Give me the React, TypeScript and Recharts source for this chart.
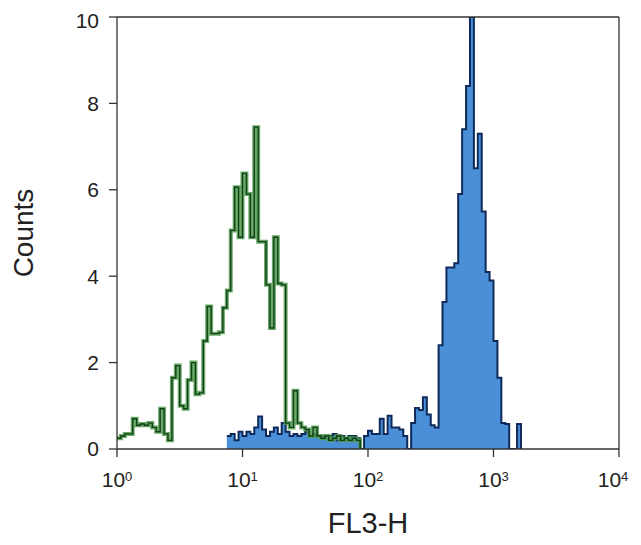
import { ComposedChart, Line, Area, XAxis, YAxis, ReferenceLine } from 'recharts';

// 32 channels per decade, log scale from 10^0 to 10^4
const binsPerDecade = 32;
const xTicks = [1, 10, 100, 1000, 10000];
const xTickExponents = ['0', '1', '2', '3', '4'];
const yTicks = [0, 2, 4, 6, 8, 10];

// control (green outline), channels 0..61
const greenStart = 0;
const greenCounts = [
  0.25, 0.3, 0.35, 0.35, 0.7, 0.55, 0.58, 0.55, 0.6, 0.5,
  0.4, 0.93, 0.35, 0.2, 1.65, 1.93, 1.0, 0.93, 1.6, 2.0,
  1.27, 1.3, 2.5, 3.3, 2.67, 2.67, 2.7, 3.27, 3.67, 5.06,
  6.06, 4.9, 6.38, 5.9, 4.9, 7.45, 4.8, 4.8, 3.8, 2.8,
  4.9, 3.83, 3.8, 0.6, 0.5, 1.35, 0.6, 0.5, 0.45, 0.3,
  0.5, 0.3, 0.25, 0.3, 0.2, 0.25, 0.3, 0.2, 0.25, 0.2,
  0.25, 0.2,
];

// stained sample (blue filled), channels 28..102
const blueStart = 28;
const blueCounts = [
  0.3, 0.35, 0.2, 0.4, 0.3, 0.4, 0.35, 0.5, 0.75, 0.45,
  0.3, 0.4, 0.5, 0.35, 0.6, 0.4, 0.3, 0.35, 0.3, 0.35,
  0.4, 0.3, 0.35, 0.3, 0.3, 0.25, 0.3, 0.35, 0.2, 0.3,
  0.25, 0.3, 0.3, 0.25, 0, 0.3, 0.42, 0.35, 0.35, 0.7,
  0.35, 0.77, 0.5, 0.5, 0.45, 0.3, 0, 0.6, 0.95, 0.9,
  1.2, 0.8, 0.55, 0.5, 2.4, 3.4, 4.2, 4.2, 4.3, 5.9,
  7.4, 8.4, 10, 6.5, 7.3, 5.5, 4.1, 3.9, 2.5, 1.65,
  0.6, 0.58, 0, 0, 0.58,
];

const pick = (arr: number[], start: number, k: number) => {
  const i = k - start;
  if (i >= 0 && i < arr.length) return arr[i];
  if (i === arr.length) return 0;
  return null;
};

const lastBin = Math.max(greenStart + greenCounts.length, blueStart + blueCounts.length);
const data = Array.from({ length: lastBin + 1 }, (_, k) => ({
  x: Math.pow(10, k / binsPerDecade),
  green: pick(greenCounts, greenStart, k),
  blue: pick(blueCounts, blueStart, k),
}));

const font = '"Liberation Sans", Arial, Helvetica, sans-serif';
const axisColor = '#333';
const textColor = '#222';

const XTick = ({ x, y, payload }: any) => {
  const idx = xTicks.indexOf(payload.value);
  return (
    <text x={x} y={y + 28} textAnchor="middle" fontFamily={font} fontSize={21} fill={textColor}>
      10
      <tspan dy={-6} fontSize={13}>{xTickExponents[idx]}</tspan>
    </text>
  );
};

const YLabel = ({ viewBox }: any) => {
  const cx = viewBox.x - 34;
  const cy = viewBox.y + viewBox.height / 2;
  return (
    <text x={cx} y={cy} transform={`rotate(-90, ${cx}, ${cy})`} textAnchor="middle" dominantBaseline="central"
      fontFamily={font} fontSize={28} fill={textColor}>
      Counts
    </text>
  );
};

const XLabel = ({ viewBox }: any) => (
  <text x={viewBox.x + viewBox.width / 2} y={viewBox.y + 84} textAnchor="middle"
    fontFamily={font} fontSize={29} fill={textColor}>
    FL3-H
  </text>
);

export default function App() {
  return (
    <div style={{ fontFamily: font }}>
      <ComposedChart
        width={625}
        height={537}
        data={data}
        margin={{ top: 9, right: 14, bottom: 12, left: 49 }}
      >
        <XAxis
          dataKey="x"
          type="number"
          scale="log"
          domain={[1, 10000]}
          ticks={xTicks}
          allowDataOverflow
          tick={<XTick />}
          tickSize={8}
          stroke={axisColor}
          strokeWidth={1.3}
          height={84}
          label={<XLabel />}
        />
        <YAxis
          type="number"
          domain={[0, 10]}
          ticks={yTicks}
          allowDataOverflow
          tickSize={8}
          tickMargin={10}
          stroke={axisColor}
          strokeWidth={1.3}
          width={60}
          tick={{ fontSize: 21, fill: textColor, fontFamily: font }}
          label={<YLabel />}
        />
        <ReferenceLine y={10} stroke={axisColor} strokeWidth={1.3} ifOverflow="visible" />
        <ReferenceLine x={10000} stroke={axisColor} strokeWidth={1.3} ifOverflow="visible" />
        <Line
          type="stepAfter"
          dataKey="green"
          stroke="#4f9a4a"
          strokeWidth={4}
          strokeOpacity={0.85}
          dot={false}
          isAnimationActive={false}
        />
        <Line
          type="stepAfter"
          dataKey="green"
          stroke="#10401a"
          strokeWidth={1.4}
          dot={false}
          isAnimationActive={false}
        />
        <Area
          type="stepAfter"
          dataKey="blue"
          stroke="#0e2a5a"
          strokeWidth={2}
          fill="#4a8fd8"
          fillOpacity={1}
          baseValue={0}
          isAnimationActive={false}
        />
      </ComposedChart>
    </div>
  );
}
